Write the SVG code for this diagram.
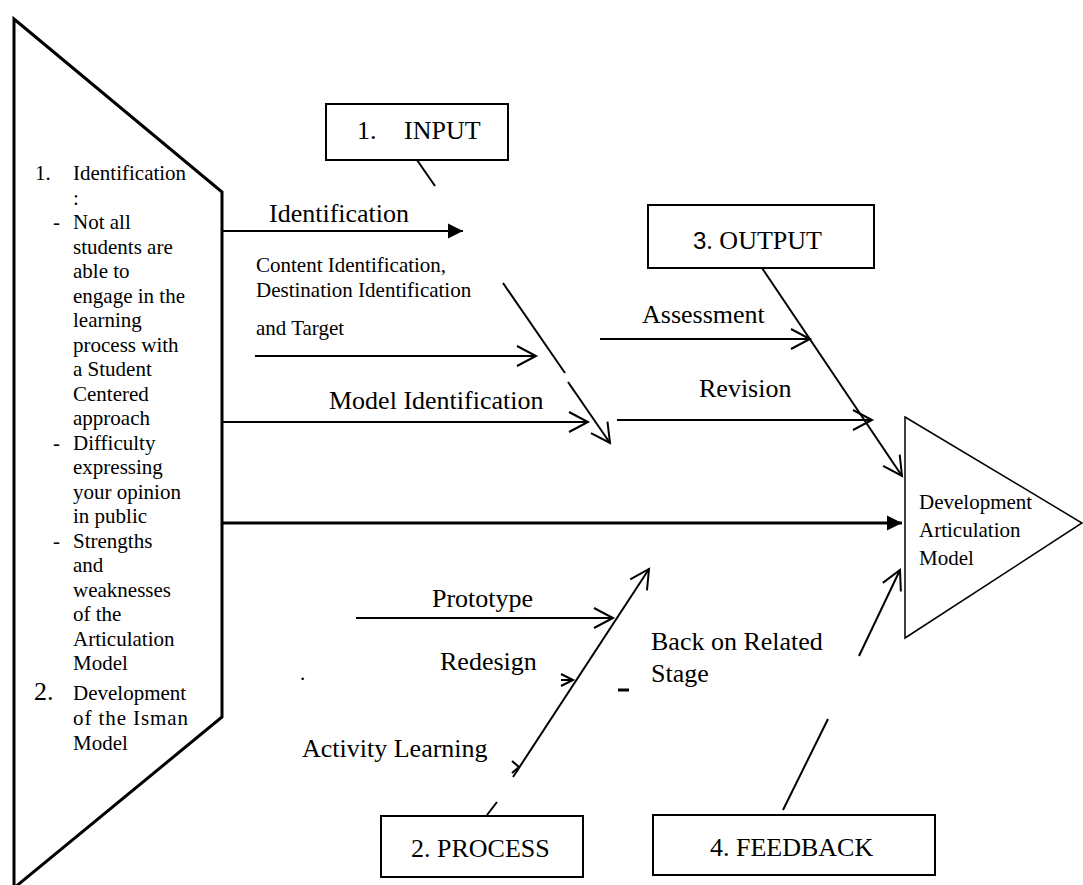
<svg xmlns="http://www.w3.org/2000/svg" width="1083" height="885" viewBox="0 0 1083 885">
<style>
text{font-family:"Liberation Serif","Times New Roman",serif;fill:#000}
.s21{font-size:21px}
.s26{font-size:26px}
.box{fill:#fff;stroke:#000;stroke-width:2}
.ln{fill:none;stroke:#000;stroke-width:2}
.thick{fill:none;stroke:#000;stroke-width:3}
</style>
<defs>
<marker id="open" markerUnits="userSpaceOnUse" markerWidth="24" markerHeight="24" refX="19" refY="10" orient="auto" overflow="visible">
<path d="M0,0 L19,10 L0,20" fill="none" stroke="#000" stroke-width="2"/>
</marker>
<marker id="openSmall" markerUnits="userSpaceOnUse" markerWidth="16" markerHeight="16" refX="12" refY="6" orient="auto" overflow="visible">
<path d="M0,0 L12,6 L0,12" fill="none" stroke="#000" stroke-width="2"/>
</marker>
<marker id="filled" markerUnits="userSpaceOnUse" markerWidth="18" markerHeight="18" refX="15" refY="7.5" orient="auto" overflow="visible">
<path d="M0,0 L15,7.5 L0,15 Z" fill="#000"/>
</marker>
</defs>
<rect width="1083" height="885" fill="#fff"/>

<g id="problem-box">
<polygon points="14,19 222,192 222,717 14,888" fill="#fff" stroke="#000" stroke-width="3"/>
<g class="s21">
<text x="35" y="180">1.</text><text x="73" y="180">Identification</text>
<text x="73" y="204.5">:</text>
<text x="53" y="229">-</text><text x="73" y="229">Not all</text>
<text x="73" y="253.5">students are</text>
<text x="73" y="278">able to</text>
<text x="73" y="302.5">engage in the</text>
<text x="73" y="327">learning</text>
<text x="73" y="351.5">process with</text>
<text x="73" y="376">a Student</text>
<text x="73" y="400.5">Centered</text>
<text x="73" y="425">approach</text>
<text x="53" y="449.5">-</text><text x="73" y="449.5">Difficulty</text>
<text x="73" y="474">expressing</text>
<text x="73" y="498.5">your opinion</text>
<text x="73" y="523">in public</text>
<text x="53" y="547.5">-</text><text x="73" y="547.5">Strengths</text>
<text x="73" y="572">and</text>
<text x="73" y="596.5">weaknesses</text>
<text x="73" y="621">of the</text>
<text x="73" y="645.5">Articulation</text>
<text x="73" y="670">Model</text>
<text x="34" y="700" font-size="26">2.</text><text x="73" y="700">Development</text>
<text x="73" y="725" textLength="115" lengthAdjust="spacing">of the Isman</text>
<text x="73" y="750">Model</text>
</g>
</g>

<g id="input">
<rect class="box" x="326" y="104" width="182" height="56"/>
<text class="s26" x="357" y="139">1.</text><text class="s26" x="404" y="139">INPUT</text>
</g>

<g id="output">
<rect class="box" x="648" y="205" width="226" height="63"/>
<text class="s26" x="693" y="249"><tspan font-family="Liberation Sans, Arial, sans-serif" font-size="24">3</tspan>. OUTPUT</text>
</g>

<g id="process">
<rect class="box" x="381" y="816" width="202" height="61"/>
<text class="s26" x="411" y="857">2. PROCESS</text>
</g>

<g id="feedback">
<rect class="box" x="653" y="815" width="282" height="60"/>
<text class="s26" x="710" y="856">4. FEEDBACK</text>
</g>

<g id="result">
<polygon points="905,417 1082,523 905,638" fill="#fff" stroke="#000" stroke-width="1.5"/>
<text class="s21" x="919" y="509">Development</text>
<text class="s21" x="919" y="537">Articulation</text>
<text class="s21" x="919" y="565">Model</text>
</g>

<g id="connectors">
<!-- input spine -->
<line class="ln" x1="417" y1="160" x2="435" y2="186"/>
<line class="ln" x1="503" y1="283" x2="565" y2="373"/>
<line class="ln" x1="568" y1="382" x2="610" y2="443" marker-end="url(#open)"/>
<!-- input branches -->
<line class="ln" x1="222" y1="231" x2="463" y2="231" marker-end="url(#filled)"/>
<line class="ln" x1="255" y1="356" x2="536" y2="356" marker-end="url(#open)"/>
<line class="ln" x1="222" y1="422" x2="588" y2="422" marker-end="url(#open)"/>
<!-- output spine -->
<line class="ln" x1="762" y1="268" x2="902" y2="476" marker-end="url(#open)"/>
<line class="ln" x1="600" y1="339" x2="810" y2="339" marker-end="url(#open)"/>
<line class="ln" x1="617" y1="420" x2="872" y2="420" marker-end="url(#open)"/>
<!-- main -->
<line class="thick" x1="222" y1="523" x2="902" y2="523" marker-end="url(#filled)"/>
<!-- process spine -->
<line class="ln" x1="487" y1="815" x2="497" y2="802"/>
<line class="ln" x1="513" y1="777" x2="649" y2="569" marker-end="url(#open)"/>
<line class="ln" x1="356" y1="618" x2="613" y2="618" marker-end="url(#open)"/>
<line class="ln" x1="561" y1="680" x2="573" y2="680" marker-end="url(#openSmall)"/>
<path d="M512,761 L519,767 L512,773" fill="none" stroke="#000" stroke-width="2"/>
<!-- feedback spine -->
<line class="ln" x1="783" y1="810" x2="828" y2="719"/>
<line class="ln" x1="859" y1="656" x2="900" y2="570" marker-end="url(#open)"/>
<line x1="618" y1="690" x2="629" y2="690" stroke="#000" stroke-width="3"/>
</g>

<g id="labels" class="s26">
<text x="269" y="222">Identification</text>
<text class="s21" x="256" y="272">Content Identification,</text>
<text class="s21" x="256" y="297">Destination Identification</text>
<text class="s21" x="256" y="335">and Target</text>
<text x="329" y="409">Model Identification</text>
<text x="642" y="323">Assessment</text>
<text x="699" y="397">Revision</text>
<text x="432" y="607">Prototype</text>
<text x="440" y="670">Redesign</text>
<text x="302" y="757">Activity Learning</text>
<text x="651" y="650">Back on Related</text>
<text x="651" y="682">Stage</text>
<text class="s21" x="300" y="680">.</text>
</g>
</svg>
